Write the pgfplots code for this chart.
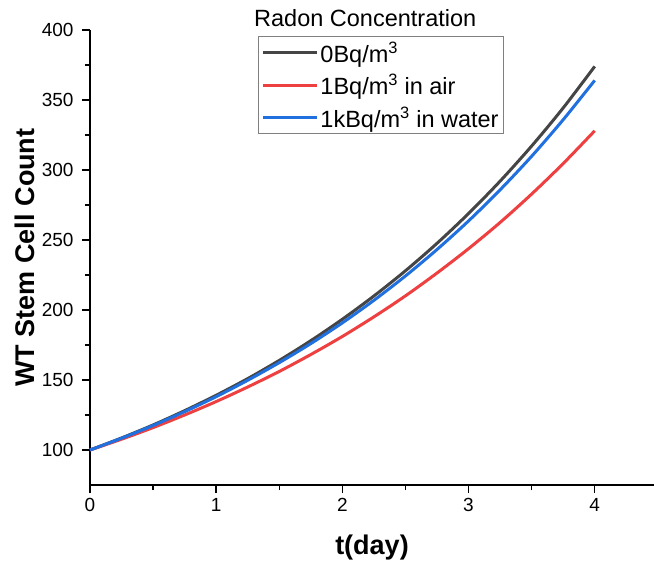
\documentclass[border=0pt]{standalone}
\usepackage{fontspec}
\setmainfont{Liberation Sans}
\usepackage{pgfplots}
\pgfplotsset{compat=1.18}
\definecolor{cblack}{HTML}{454545}
\definecolor{cred}{HTML}{EE4040}
\definecolor{cblue}{HTML}{2070E0}
\begin{document}
\begin{tikzpicture}
\begin{axis}[
    scale only axis, width=564pt, height=455pt,
    xmin=0, xmax=4.47, ymin=75, ymax=400,
    axis lines*=left, axis line style={line width=1.4pt},
    xtick={0,1,2,3,4}, minor xtick={0.5,1.5,2.5,3.5},
    ytick={100,150,200,250,300,350,400},
    minor ytick={125,175,225,275,325,375},
    tick align=outside, major tick length=8pt, minor tick length=5pt,
    every tick/.style={line width=1.4pt, black},
    tick label style={font=\fontsize{19}{22}\selectfont},
    yticklabel style={xshift=-5pt},
    xticklabel style={yshift=-2pt},
    /pgf/number format/assume math mode=true,
    xlabel={\textbf{t(day)}}, ylabel={\textbf{WT Stem Cell Count}},
    label style={font=\fontsize{27}{30}\selectfont},
    xlabel style={yshift=-16pt},
    ylabel style={yshift=0pt},
    legend cell align=left,
    legend style={at={(0.298,0.986)}, anchor=north west, draw=gray, line width=0.8pt,
        font=\fontsize{23.5}{27}\selectfont, row sep=6.5pt, inner sep=3pt,
        nodes={inner sep=2pt}},
    legend image post style={line width=3pt},
    legend image code/.code={\draw[#1] (0pt,0pt) -- (54pt,0pt);},
    clip=false,
]
\addplot[cblack, line width=3pt, smooth] coordinates {
(0,100) (0.25,108.6) (0.5,117.9) (0.75,128.1) (1,139.1) (1.25,151.0) (1.5,164.0) (1.75,178.1)
(2,193.4) (2.25,210.0) (2.5,228.0) (2.75,247.6) (3,268.9) (3.25,292.0) (3.5,317.1) (3.75,344.3) (4,374.0)};
\addplot[cred, line width=3pt, smooth] coordinates {
(0,100) (0.25,107.7) (0.5,116.0) (0.75,125.0) (1,134.6) (1.25,145.0) (1.5,156.1) (1.75,168.2)
(2,181.1) (2.25,195.1) (2.5,210.1) (2.75,226.4) (3,243.8) (3.25,262.5) (3.5,282.8) (3.75,304.6) (4,328.0)};
\addplot[cblue, line width=3pt, smooth] coordinates {
(0,100) (0.25,108.4) (0.5,117.5) (0.75,127.4) (1,138.1) (1.25,149.8) (1.5,162.4) (1.75,176.0)
(2,190.8) (2.25,206.9) (2.5,224.3) (2.75,243.2) (3,263.6) (3.25,285.8) (3.5,309.8) (3.75,335.9) (4,364.0)};
\legend{0Bq/m\textsuperscript{3}, 1Bq/m\textsuperscript{3} in air, 1kBq/m\textsuperscript{3} in water}
\node[font=\fontsize{23.5}{27}\selectfont, anchor=center] at (rel axis cs:0.488,1.027) {Radon Concentration};
\coordinate (O) at (rel axis cs:0,0);
\coordinate (T) at (rel axis cs:1,1);
\end{axis}
\pgfresetboundingbox
\path[use as bounding box] ([shift={(-90pt,-83pt)}]O) rectangle ([shift={(0pt,30pt)}]T);
\end{tikzpicture}
\end{document}
